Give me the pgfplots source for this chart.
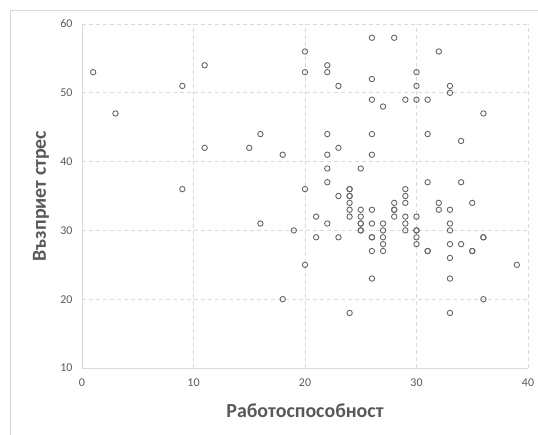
\documentclass[border=0pt]{standalone}
\usepackage{pgfplots}
\pgfplotsset{compat=1.18}
\usepackage{fontspec}
\setmainfont{Carlito}
\definecolor{txtgray}{HTML}{595959}
\definecolor{gridgray}{HTML}{D9D9D9}
\definecolor{markgray}{HTML}{666666}
\begin{document}
\begin{tikzpicture}
\begin{axis}[
  at={(0,0)}, anchor=south west,
  scale only axis, width=446bp, height=344bp,
  xmin=0, xmax=40, ymin=10, ymax=60,
  xtick={0,10,20,30,40}, ytick={10,20,30,40,50,60},
  axis x line*=bottom, axis y line*=left,
  axis line style={gridgray, line width=0.8bp},
  major tick length=0pt,
  grid=major,
  major grid style={gridgray, line width=0.8bp, dash pattern=on 4bp off 3bp},
  ticklabel style={font=\fontsize{12}{14}\selectfont, text=txtgray},
  /pgf/number format/assume math mode=true,
  xticklabel style={yshift=-7bp},
  yticklabel style={xshift=-6bp},
  xlabel={Работоспособност},
  ylabel={Възприет стрес},
  label style={font=\fontsize{20}{24}\bfseries, text=txtgray},
  xlabel style={at={(axis description cs:0.5,0)}, anchor=center, yshift=-43bp},
  ylabel style={at={(axis description cs:0,0.5)}, anchor=center, yshift=41bp},
  clip=false,
]
\addplot[only marks, mark=o, mark size=2.7bp, mark options={draw=markgray, line width=0.9bp}] coordinates {
(1,53) (3,47) (9,51) (9,36) (11,54) (11,42) (15,42) (16,44) (16,31)
(18,41) (18,20) (19,30) (20,56) (20,53) (20,36) (20,25) (21,32) (21,29)
(22,54) (22,53) (22,44) (22,41) (22,39) (22,37) (22,31)
(23,51) (23,42) (23,35) (23,29)
(24,36) (24,36) (24,35) (24,35) (24,34) (24,33) (24,32) (24,18)
(25,39) (25,33) (25,32) (25,31) (25,31) (25,30) (25,30)
(26,58) (26,52) (26,49) (26,44) (26,41) (26,33) (26,31) (26,29) (26,29) (26,27) (26,23)
(27,48) (27,31) (27,30) (27,29) (27,28) (27,27)
(28,58) (28,34) (28,33) (28,33) (28,32)
(29,49) (29,36) (29,35) (29,34) (29,32) (29,31) (29,30)
(30,53) (30,51) (30,49) (30,32) (30,30) (30,30) (30,29) (30,28)
(31,49) (31,44) (31,37) (31,27) (31,27)
(32,56) (32,34) (32,33)
(33,51) (33,50) (33,33) (33,31) (33,30) (33,28) (33,26) (33,23) (33,18)
(34,43) (34,37) (34,28)
(35,34) (35,27) (35,27)
(36,47) (36,29) (36,29) (36,20)
(39,25)
};
\end{axis}
\draw[gridgray, line width=0.8bp] (-72bp,-67bp) -- (-72bp,358bp) -- (456bp,358bp);
\pgfresetboundingbox
\useasboundingbox (-82bp,-67bp) rectangle (456bp,368bp);
\end{tikzpicture}
\end{document}
